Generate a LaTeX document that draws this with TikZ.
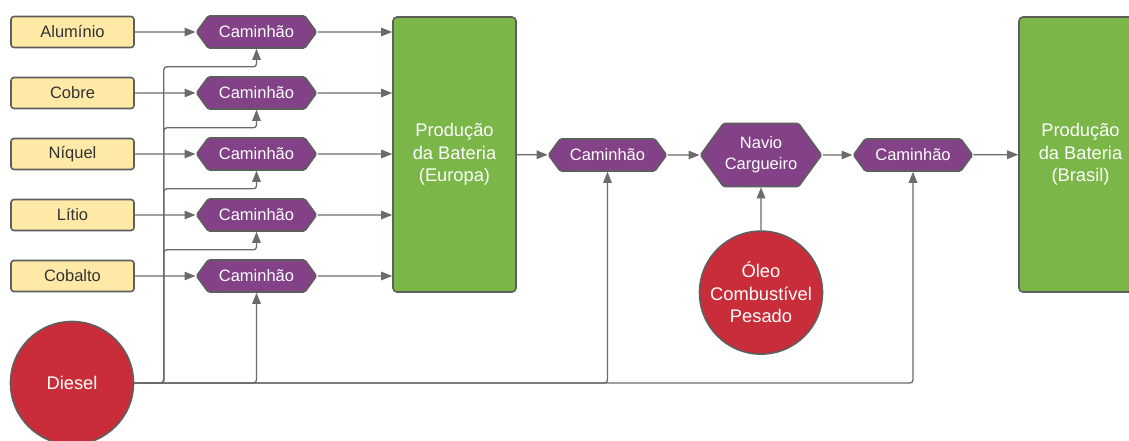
\documentclass[tikz,border=0pt]{standalone}
\usepackage{fontspec}
\setmainfont{Liberation Sans}
\usetikzlibrary{arrows.meta,calc,positioning,shapes.symbols}
\definecolor{rahmen}{HTML}{5E5E5E}
\definecolor{linie}{HTML}{6B6B6B}
\definecolor{gelb}{HTML}{FFE9A6}
\definecolor{lila}{HTML}{834187}
\definecolor{gruen}{HTML}{7AB648}
\definecolor{rot}{HTML}{C92D39}
\definecolor{dunkel}{HTML}{333333}

\begin{document}
\begin{tikzpicture}[x=1pt,y=-1pt,
  conn/.style={draw=linie,line width=1.3pt,-{Triangle[length=11pt,width=8.5pt]},rounded corners=3pt},
  rohstoff/.style={draw=rahmen,line width=1.6pt,fill=gelb,rounded corners=3pt,inner sep=0pt,
    minimum width=123pt,minimum height=31pt,text=dunkel,font=\fontsize{16.5}{19}\selectfont},
  caminhao/.style={shape=signal,signal to=west and east,signal pointer angle=108,
    draw=rahmen,line width=1.6pt,fill=lila,inner sep=0pt,minimum width=120pt,minimum height=32pt,
    rounded corners=1.5pt,text=white,align=center,font=\fontsize{16.5}{20.7}\selectfont},
  fabrica/.style={draw=rahmen,line width=1.6pt,fill=gruen,rounded corners=4pt,inner sep=0pt,
    minimum width=123pt,minimum height=275pt,text=white,align=center,font=\fontsize{18.3}{22.5}\selectfont},
  combustivel/.style={circle,draw=rahmen,line width=1.6pt,fill=rot,inner sep=0pt,
    minimum size=123pt,text=white,align=center,font=\fontsize{18.3}{22.5}\selectfont}]
\useasboundingbox (0,0) rectangle (1129,441);
\clip (0,0) rectangle (1129,441);
%Fabrik Europa und Kette nach Brasilien
\node[fabrica] (fabEU) at (454.5,154.5) {Produção\\da Bateria\\(Europa)};
\node[caminhao,minimum width=118pt] (camEU) at (607.5,155) {Caminhão};
\node[caminhao,minimum width=121pt,minimum height=63pt] (navio) at (761,155) {Navio\\Cargueiro};
\node[caminhao,minimum width=119pt] (camBR) at (913,155) {Caminhão};
\node[fabrica] (fabBR) at (1080.5,154.5) {Produção\\da Bateria\\(Brasil)};
\node[combustivel,below=43pt of navio] (oleo) {Óleo\\Combustível\\Pesado};
\node[combustivel] (diesel) at (72,383) {Diesel};
\coordinate (bus) at ($(diesel.east)+(29.5,0)$);
%Rohstoffe, je ein Lkw
\foreach \name/\i in {Alumínio/1,Cobre/2,Níquel/3,Lítio/4,Cobalto/5}{
\node[rohstoff] (mat\i) at (72.5,{32+61*(\i-1)}) {\name};
\node[caminhao] (cam\i) at (256.5,{32+61*(\i-1)}) {Caminhão};
\draw[conn] (mat\i) -- (cam\i);
\draw[conn] (cam\i) -- (fabEU.west |- cam\i.east);
}
\foreach \i in {1,...,4}{
\draw[conn] (diesel.east) -- (bus) |- ($(cam\i.south)+(0,18)$) -- (cam\i.south);
}
\draw[conn] (diesel.east) -| (cam5.south);
\draw[conn] (diesel.east) -| (camEU.south);
\draw[conn] (diesel.east) -| (camBR.south);
\draw[conn] (fabEU) -- (camEU);
\draw[conn] (camEU) -- (navio);
\draw[conn] (navio) -- (camBR);
\draw[conn] (camBR) -- (fabBR);
\draw[conn] (oleo) -- (navio);
\end{tikzpicture}
\end{document}
